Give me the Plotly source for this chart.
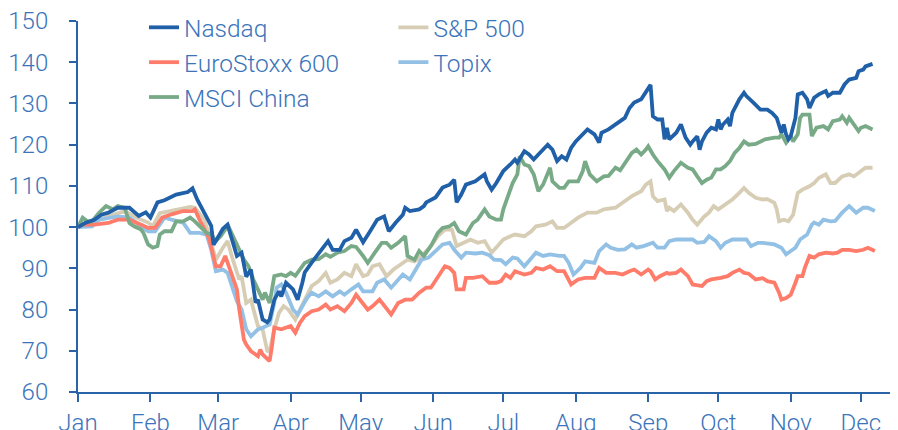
import pandas as pd
import plotly.graph_objects as go

START = "2020-01-01"

# ---- data: (days since 1 Jan 2020, index level, 1 Jan 2020 = 100) ----
nasdaq_day = [0, 3, 7, 10, 13, 17, 22, 26, 29, 31, 34, 37, 42, 47, 49, 51, 54, 57, 58, 62, 64, 66, 68, 70, 72, 74,
              76, 77, 79, 81, 82, 84, 86, 87, 89, 92, 94, 96, 97, 100, 104, 107, 109, 112, 114, 117, 119, 122, 125,
              128, 131, 133, 136, 139, 140, 142, 146, 148, 149, 153, 156, 159, 161, 162, 164, 166, 170, 174, 175,
              177, 179, 182, 185, 187, 188, 191, 193, 195, 197, 201, 203, 205, 207, 209, 211, 213, 218, 221, 223,
              224, 227, 230, 232, 234, 236, 238, 241, 243, 245, 246, 248, 250, 251, 252, 253, 256, 258, 260, 262,
              263, 265, 266, 267, 269, 271, 273, 274, 275, 276, 278, 279, 280, 283, 285, 286, 289, 292, 295, 297,
              299, 300, 301, 302, 303, 304, 305, 307, 308, 310, 312, 313, 315, 317, 320, 321, 323, 326, 328, 330,
              333, 334, 336, 337, 340]
nasdaq_val = [100.0, 101.0, 101.8, 103.0, 103.5, 104.7, 104.7, 102.7, 103.6, 102.3, 106.0, 106.5, 107.9, 108.5,
              109.4, 106.7, 103.5, 100.3, 95.7, 99.6, 100.6, 96.6, 93.0, 93.8, 88.0, 89.7, 81.7, 82.4, 77.6, 76.9,
              77.6, 82.4, 84.4, 83.2, 86.5, 84.9, 82.4, 86.5, 89.0, 91.4, 94.5, 96.6, 94.5, 94.5, 96.6, 97.4, 99.4,
              96.3, 99.0, 101.8, 102.6, 99.0, 101.1, 103.0, 104.7, 103.9, 104.3, 105.1, 106.0, 107.2, 109.6, 110.3,
              111.5, 106.0, 107.9, 110.3, 111.1, 112.8, 111.1, 109.1, 110.7, 113.6, 115.2, 116.4, 115.6, 118.4,
              117.6, 116.4, 117.6, 120.0, 118.8, 116.0, 117.2, 116.4, 119.2, 120.8, 123.7, 122.5, 120.5, 122.9,
              123.7, 124.9, 125.7, 126.5, 128.9, 130.2, 131.0, 132.6, 134.5, 126.9, 126.1, 126.1, 121.3, 124.1,
              121.3, 122.9, 124.9, 121.7, 120.0, 120.8, 122.0, 118.8, 120.8, 122.9, 124.1, 123.7, 126.1, 123.7,
              124.9, 126.1, 124.5, 127.7, 131.0, 132.6, 131.8, 130.2, 128.5, 128.5, 127.7, 126.5, 124.9, 122.9,
              124.9, 122.5, 121.3, 122.1, 126.5, 132.2, 132.6, 131.0, 128.9, 131.4, 132.2, 133.0, 131.8, 132.6,
              132.6, 134.6, 135.8, 136.2, 137.8, 138.2, 139.0, 139.6]

sp500_day = [0, 7, 13, 20, 25, 30, 32, 35, 42, 48, 50, 54, 56, 59, 62, 64, 66, 69, 70, 72, 74, 77, 79, 81, 82, 84,
             86, 88, 90, 93, 95, 97, 100, 103, 106, 108, 111, 114, 117, 119, 122, 124, 126, 129, 132, 135, 138, 141,
             144, 147, 151, 154, 157, 160, 162, 165, 168, 171, 174, 177, 179, 182, 185, 187, 191, 194, 196, 200,
             203, 205, 208, 211, 214, 218, 222, 225, 230, 233, 237, 241, 243, 245, 246, 248, 251, 252, 253, 255,
             258, 261, 263, 265, 268, 270, 272, 274, 276, 280, 283, 285, 287, 290, 293, 295, 298, 299, 300, 302,
             304, 306, 308, 310, 313, 315, 317, 320, 322, 324, 327, 330, 332, 335, 337, 340]
sp500_val = [100.0, 101.5, 102.6, 103.9, 102.3, 101.1, 100.2, 103.4, 104.2, 104.9, 104.7, 101.8, 98.2, 92.1, 95.0,
             96.6, 92.6, 87.3, 88.1, 81.6, 82.4, 76.0, 75.2, 70.0, 69.8, 75.2, 79.2, 80.8, 80.0, 77.6, 80.0, 82.4,
             85.7, 86.9, 88.9, 86.5, 87.3, 88.9, 88.1, 91.0, 88.1, 88.5, 90.5, 91.0, 88.1, 89.7, 91.0, 92.1, 91.7,
             92.9, 95.4, 97.8, 99.4, 99.4, 95.4, 96.2, 97.0, 96.2, 96.6, 93.8, 95.0, 97.0, 97.8, 98.2, 97.8, 99.0,
             100.2, 100.6, 101.4, 99.8, 99.8, 101.0, 102.3, 103.5, 103.5, 104.3, 104.7, 105.9, 107.5, 108.7, 110.3,
             111.1, 107.5, 106.3, 106.7, 103.9, 104.7, 103.9, 105.5, 103.5, 101.8, 100.6, 102.6, 103.5, 105.1,
             104.3, 105.1, 106.7, 108.3, 109.5, 108.3, 107.1, 106.7, 106.8, 105.9, 104.3, 101.4, 101.8, 101.4,
             103.0, 108.3, 109.1, 109.9, 110.7, 111.9, 112.8, 110.7, 110.7, 112.3, 112.8, 112.3, 113.6, 114.4, 114.4]

euro_day = [0, 2, 7, 13, 17, 22, 27, 30, 33, 36, 40, 45, 49, 50, 52, 56, 59, 61, 63, 65, 68, 69, 71, 72, 74, 77, 78,
            79, 82, 83, 84, 87, 89, 91, 93, 95, 97, 100, 103, 106, 108, 111, 114, 117, 119, 122, 124, 126, 129, 134,
            137, 140, 143, 146, 149, 151, 154, 157, 159, 161, 162, 165, 166, 169, 173, 176, 179, 181, 183, 185, 187,
            191, 194, 196, 199, 202, 205, 208, 211, 214, 217, 221, 223, 226, 230, 233, 236, 238, 241, 244, 245, 247,
            249, 252, 253, 256, 258, 261, 263, 267, 269, 271, 275, 278, 280, 283, 285, 287, 290, 293, 295, 298, 300,
            301, 303, 305, 307, 308, 310, 311, 313, 315, 317, 320, 323, 325, 327, 330, 333, 336, 338, 341]
euro_val = [100.0, 100.6, 100.6, 101.0, 101.8, 101.8, 100.6, 99.8, 99.8, 102.3, 103.1, 103.9, 103.9, 104.3, 101.8,
            97.4, 90.5, 90.5, 93.0, 89.7, 84.9, 80.0, 72.7, 71.5, 69.9, 68.7, 70.3, 69.1, 67.5, 71.1, 75.6, 75.2,
            75.6, 76.0, 74.4, 76.8, 78.4, 79.6, 80.0, 81.2, 80.0, 80.8, 79.6, 81.6, 83.6, 81.6, 80.0, 80.8, 82.4,
            78.8, 81.6, 82.4, 82.4, 84.1, 85.3, 85.3, 88.1, 90.5, 90.1, 88.9, 84.9, 84.9, 87.7, 87.7, 88.1, 86.5,
            86.5, 86.9, 88.5, 87.7, 89.3, 88.5, 88.9, 90.1, 89.7, 90.5, 89.3, 89.3, 86.1, 87.3, 87.7, 87.7, 90.1,
            88.9, 88.9, 88.5, 89.3, 89.7, 88.5, 89.7, 89.3, 87.3, 88.1, 88.9, 88.7, 88.9, 89.7, 88.1, 86.1, 85.7,
            86.9, 87.3, 87.7, 88.1, 88.9, 89.7, 88.9, 88.7, 87.3, 87.6, 86.9, 86.5, 84.1, 82.4, 82.8, 83.6, 86.5,
            88.1, 88.1, 90.1, 93.0, 92.6, 93.4, 93.8, 93.6, 93.8, 94.5, 94.5, 94.2, 94.5, 95.0, 94.2]

topix_day = [0, 6, 9, 13, 17, 22, 25, 30, 33, 37, 40, 45, 48, 52, 55, 57, 59, 62, 64, 66, 68, 70, 72, 74, 77, 79, 82,
             84, 85, 87, 89, 92, 94, 96, 98, 100, 103, 106, 109, 112, 114, 117, 120, 122, 126, 128, 131, 134, 136,
             139, 142, 145, 147, 150, 153, 156, 159, 161, 164, 166, 170, 173, 176, 178, 181, 183, 186, 188, 191, 194,
             196, 199, 202, 206, 208, 210, 212, 215, 217, 221, 223, 226, 228, 231, 234, 237, 239, 242, 244, 246, 248,
             251, 253, 256, 259, 263, 265, 268, 270, 273, 275, 277, 280, 283, 286, 288, 291, 293, 295, 298, 301, 303,
             305, 307, 309, 312, 314, 315, 317, 319, 322, 324, 327, 330, 333, 336, 338, 341]
topix_val = [100.0, 100.2, 101.8, 102.3, 102.6, 102.3, 101.1, 99.0, 99.0, 102.3, 101.8, 101.1, 98.6, 98.6, 98.2,
             94.5, 89.3, 89.7, 88.9, 85.7, 82.0, 80.0, 75.2, 73.5, 75.2, 75.6, 76.4, 81.6, 85.3, 86.1, 84.1, 80.0,
             78.8, 80.8, 82.8, 84.1, 83.2, 84.4, 83.2, 84.4, 83.6, 84.9, 86.1, 84.4, 84.4, 86.5, 87.3, 85.3, 86.5,
             88.5, 87.3, 90.1, 92.1, 92.6, 94.2, 95.8, 96.2, 94.5, 92.6, 93.8, 93.6, 93.8, 93.2, 92.1, 92.0, 91.0,
             92.6, 92.4, 90.5, 92.6, 93.8, 93.0, 93.4, 93.0, 93.0, 91.3, 88.5, 90.1, 91.7, 91.3, 94.2, 95.8, 95.0,
             94.5, 94.6, 95.8, 95.0, 95.4, 95.8, 96.2, 95.0, 95.0, 96.6, 97.0, 97.0, 97.0, 96.2, 96.4, 97.8, 96.6,
             95.0, 96.2, 97.0, 97.0, 97.0, 95.4, 96.2, 96.2, 96.0, 95.8, 95.0, 93.4, 94.2, 95.0, 97.0, 98.2, 100.6,
             101.1, 100.6, 101.8, 101.4, 101.5, 103.5, 105.1, 103.5, 104.7, 104.7, 103.9]

china_day = [0, 1, 2, 4, 6, 9, 12, 15, 17, 20, 22, 24, 27, 28, 30, 32, 34, 35, 37, 40, 42, 45, 48, 50, 52, 55, 57, 59,
             61, 63, 64, 66, 68, 69, 71, 73, 75, 77, 79, 80, 82, 84, 87, 89, 91, 93, 95, 97, 100, 103, 106, 108, 111,
             114, 117, 119, 122, 124, 127, 130, 132, 134, 137, 140, 141, 144, 146, 148, 151, 154, 156, 159, 161, 163,
             166, 169, 171, 174, 176, 179, 181, 182, 184, 186, 188, 189, 191, 193, 195, 197, 199, 202, 203, 206, 208,
             210, 214, 216, 217, 219, 222, 225, 227, 230, 232, 234, 237, 239, 241, 243, 244, 246, 248, 251, 253, 255,
             258, 261, 263, 265, 267, 269, 271, 273, 275, 277, 279, 281, 283, 285, 287, 290, 292, 294, 298, 300, 301,
             303, 305, 306, 308, 309, 310, 313, 314, 316, 319, 321, 323, 326, 327, 329, 330, 333, 334, 335, 337, 340]
china_val = [100.0, 101.0, 102.3, 101.4, 101.4, 103.5, 105.1, 104.3, 105.1, 104.7, 101.0, 100.2, 99.4, 98.6, 95.8,
             95.0, 95.4, 98.2, 99.0, 99.0, 101.4, 101.4, 102.3, 101.4, 100.2, 98.6, 98.2, 96.6, 97.8, 99.4, 100.6,
             98.2, 95.8, 94.5, 92.1, 90.5, 87.3, 84.9, 82.4, 84.1, 81.6, 88.1, 88.5, 88.1, 88.9, 88.2, 89.7, 91.3,
             92.1, 92.2, 93.4, 92.8, 93.8, 94.2, 95.4, 95.2, 93.0, 91.3, 93.8, 96.2, 96.2, 95.0, 96.2, 97.8, 93.0,
             92.1, 94.2, 93.0, 95.4, 98.6, 99.8, 100.2, 101.0, 99.0, 98.2, 101.0, 101.8, 104.3, 102.6, 101.8, 101.8,
             104.3, 107.5, 110.7, 112.8, 117.2, 115.2, 114.8, 112.8, 108.7, 110.3, 114.4, 111.1, 109.5, 109.5,
             111.1, 111.1, 113.6, 116.0, 112.8, 111.1, 112.3, 112.4, 114.4, 113.8, 115.6, 118.0, 118.8, 117.6,
             118.8, 119.6, 117.6, 116.0, 114.0, 112.0, 113.6, 115.6, 114.4, 114.0, 112.3, 110.7, 111.5, 112.0,
             114.0, 114.0, 114.8, 116.0, 118.0, 119.2, 120.8, 120.0, 120.2, 120.8, 121.3, 121.7, 121.7, 122.5,
             120.5, 122.1, 120.8, 122.5, 126.5, 127.3, 127.3, 122.1, 124.1, 124.5, 123.7, 125.7, 126.1, 126.9,
             125.3, 126.5, 124.1, 123.3, 124.1, 124.5, 123.7]

y_ticks = [60, 70, 80, 90, 100, 110, 120, 130, 140, 150]

series = [
    # name, days, values, colour, legend, rank
    ("S&P 500", sp500_day, sp500_val, "#d6cdb4", "legend2", 1),
    ("Topix", topix_day, topix_val, "#93c1e6", "legend2", 2),
    ("EuroStoxx 600", euro_day, euro_val, "#ff7b6a", "legend", 2),
    ("MSCI China", china_day, china_val, "#79aa87", "legend", 3),
    ("Nasdaq", nasdaq_day, nasdaq_val, "#1f60a8", "legend", 1),
]


def to_dates(days):
    return pd.Timestamp(START) + pd.to_timedelta(days, unit="D")


AXIS = "#2a64a8"
TEXT = "#3b74b9"
FONT = "Roboto, 'Liberation Sans', Arial, sans-serif"

fig = go.Figure()
for name, days, vals, col, leg, rank in series:
    fig.add_trace(go.Scatter(
        x=to_dates(days), y=vals, mode="lines", name=name,
        line=dict(color=col, width=3.8), legend=leg, legendrank=rank,
    ))

# the page body has an 8px default margin, so the figure is sized/offset to compensate
fig.update_layout(
    width=890, height=422,
    margin=dict(l=70, r=5, t=13, b=38, autoexpand=False),
    paper_bgcolor="white", plot_bgcolor="white",
    font=dict(family=FONT, size=23, color=TEXT, weight=300),
    legend=dict(x=0.081, y=1.0434, xanchor="left", yanchor="top",
                orientation="v", font=dict(size=24.5, color=TEXT), bgcolor="rgba(0,0,0,0)", itemclick=False),
    legend2=dict(x=0.387, y=1.0434, xanchor="left", yanchor="top",
                 orientation="v", font=dict(size=24.5, color=TEXT), bgcolor="rgba(0,0,0,0)", itemclick=False),
    showlegend=True,
)
fig.update_xaxes(
    range=["2020-01-01", "2020-12-14 18:00"], type="date",
    tickformat="%b", dtick="M1", tick0="2020-01-01",
    showline=True, linecolor=AXIS, linewidth=2, automargin=False,
    ticks="outside", ticklen=8, tickwidth=2, tickcolor=AXIS,
    showgrid=False, zeroline=False, ticklabelstandoff=0,
    ticklabeloverflow="allow",
    tickfont=dict(size=24, color=TEXT),
)
fig.update_yaxes(
    range=[60, 150], tickvals=y_ticks,
    showline=True, linecolor=AXIS, linewidth=2, automargin=False,
    ticks="outside", ticklen=7, tickwidth=2, tickcolor=AXIS,
    showgrid=False, zeroline=False, ticklabelstandoff=16,
    ticklabeloverflow="allow",
    tickfont=dict(size=24, color=TEXT),
)

fig.write_html("out.html")
